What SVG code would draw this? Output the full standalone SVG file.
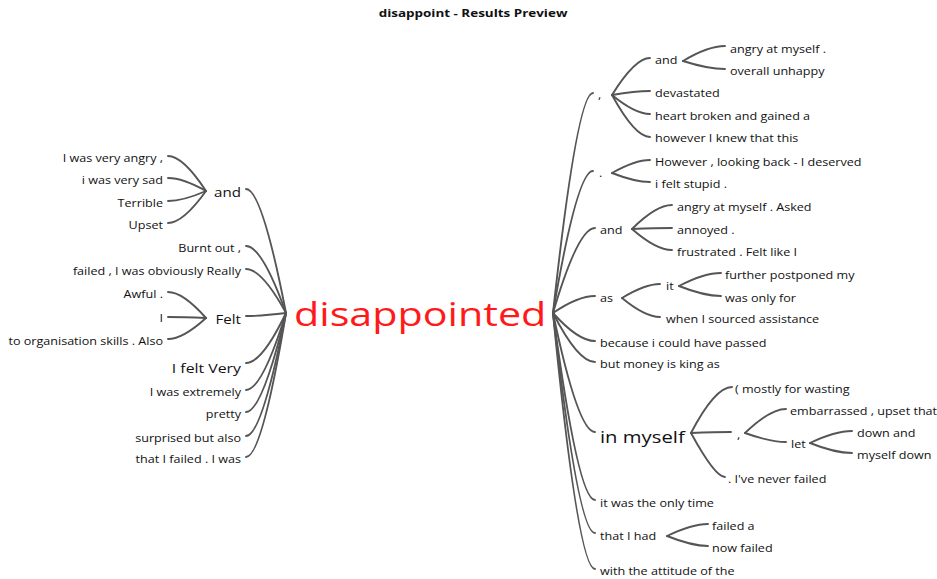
<svg xmlns="http://www.w3.org/2000/svg" width="937" height="579" viewBox="0 0 937 579">
<style>
text{font-family:"Open Sans","Liberation Sans",sans-serif;fill:#111}
.s{font-size:10.5px}
.m{font-size:12.6px}
.l{font-size:13.2px}
.xl{font-size:16.9px}
.e{text-anchor:end}
.title{font-size:11.2px;font-weight:bold;text-anchor:middle;fill:#111}
.center{font-size:33px;fill:#ff1a1a}
#connectors path{fill:none;stroke:#555;stroke-width:1.9;stroke-linecap:round}
</style>
<rect width="937" height="579" fill="#fff"/>
<g id="title" transform="translate(473,17) scale(1.2,1)"><text class="title">disappoint - Results Preview</text></g>
<g id="connectors">
<path d="M286,313 Q262,189 246,189"/>
<path d="M286,313 Q262,246 246,246"/>
<path d="M286,313 Q262,269 246,269"/>
<path d="M286,313 Q262,316 246,316"/>
<path d="M286,313 Q262,363 246,363"/>
<path d="M286,313 Q262,390 246,390"/>
<path d="M286,313 Q262,412 246,412"/>
<path d="M286,313 Q262,436 246,436"/>
<path d="M286,313 Q262,457 246,457"/>
<path d="M206,191 Q183,156 168,156"/>
<path d="M206,191 Q183,178 168,178"/>
<path d="M206,191 Q183,201 168,201"/>
<path d="M206,191 Q183,223 168,223"/>
<path d="M206,318 Q183,292 168,292"/>
<path d="M206,318 Q183,317 168,317"/>
<path d="M206,318 Q183,339 168,339"/>
<path d="M553,313 Q577,93 593,93"/>
<path d="M553,313 Q577,171 593,171"/>
<path d="M553,313 Q578,228 595,228"/>
<path d="M553,313 Q578,296 595,296"/>
<path d="M553,313 Q578,341 595,341"/>
<path d="M553,313 Q578,362 595,362"/>
<path d="M553,313 Q578,432 595,432"/>
<path d="M553,313 Q578,500 595,500"/>
<path d="M553,313 Q578,533 595,533"/>
<path d="M553,313 Q578,569 595,569"/>
<path d="M612,95 Q635,58 650,58"/>
<path d="M612,95 Q635,91 650,91"/>
<path d="M612,95 Q635,114 650,114"/>
<path d="M612,95 Q635,137 650,137"/>
<path d="M683,61 Q708,46 725,46"/>
<path d="M683,61 Q708,69 725,69"/>
<path d="M612,173 Q635,160 650,160"/>
<path d="M612,173 Q635,182 650,182"/>
<path d="M632,229 Q656,205 672,205"/>
<path d="M632,229 Q656,228 672,228"/>
<path d="M632,229 Q656,250 672,250"/>
<path d="M622,298 Q645,284 660,284"/>
<path d="M622,298 Q645,317 660,317"/>
<path d="M679,286 Q704,273 721,273"/>
<path d="M679,286 Q704,296 721,296"/>
<path d="M691,433 Q715,387 732,387"/>
<path d="M691,433 Q715,432 731,432"/>
<path d="M691,433 Q715,477 725,477"/>
<path d="M745,433 Q770,409 786,409"/>
<path d="M745,433 Q770,442 786,442"/>
<path d="M810,443 Q835,431 852,431"/>
<path d="M810,443 Q835,453 852,453"/>
<path d="M667,536 Q692,524 708,524"/>
<path d="M667,536 Q692,546 708,546"/>
</g>
<g id="n-center" transform="translate(294,326) scale(1.25,1)"><text class="center">disappointed</text></g>
<g id="n-l-and" transform="translate(241,197) scale(1.2,1)"><text class="m e">and</text></g>
<g id="n-l-angry" transform="translate(163,162) scale(1.2,1)"><text class="s e">I was very angry ,</text></g>
<g id="n-l-sad" transform="translate(163,184) scale(1.2,1)"><text class="s e">i was very sad</text></g>
<g id="n-l-terrible" transform="translate(163,207) scale(1.2,1)"><text class="s e">Terrible</text></g>
<g id="n-l-upset" transform="translate(163,229) scale(1.2,1)"><text class="s e">Upset</text></g>
<g id="n-l-burnt" transform="translate(241,252) scale(1.2,1)"><text class="s e">Burnt out ,</text></g>
<g id="n-l-failed" transform="translate(241,275) scale(1.2,1)"><text class="s e">failed , I was obviously Really</text></g>
<g id="n-l-felt" transform="translate(241,324) scale(1.2,1)"><text class="m e">Felt</text></g>
<g id="n-l-awful" transform="translate(163,298) scale(1.2,1)"><text class="s e">Awful .</text></g>
<g id="n-l-i" transform="translate(163,322) scale(1.2,1)"><text class="s e">I</text></g>
<g id="n-l-org" transform="translate(163,345) scale(1.2,1)"><text class="s e">to organisation skills . Also</text></g>
<g id="n-l-feltvery" transform="translate(241,373) scale(1.2,1)"><text class="l e">I felt Very</text></g>
<g id="n-l-extremely" transform="translate(241,396) scale(1.2,1)"><text class="s e">I was extremely</text></g>
<g id="n-l-pretty" transform="translate(241,418) scale(1.2,1)"><text class="s e">pretty</text></g>
<g id="n-l-surprised" transform="translate(241,442) scale(1.2,1)"><text class="s e">surprised but also</text></g>
<g id="n-l-thatfailed" transform="translate(241,463) scale(1.2,1)"><text class="s e">that I failed . I was</text></g>
<g id="n-r-comma" transform="translate(598,99) scale(1.2,1)"><text class="s">,</text></g>
<g id="n-r-and1" transform="translate(655,64) scale(1.2,1)"><text class="s">and</text></g>
<g id="n-r-angry1" transform="translate(730,53) scale(1.2,1)"><text class="s">angry at myself .</text></g>
<g id="n-r-overall" transform="translate(730,75) scale(1.2,1)"><text class="s">overall unhappy</text></g>
<g id="n-r-devastated" transform="translate(655,97) scale(1.2,1)"><text class="s">devastated</text></g>
<g id="n-r-heart" transform="translate(655,120) scale(1.2,1)"><text class="s">heart broken and gained a</text></g>
<g id="n-r-however" transform="translate(655,142) scale(1.2,1)"><text class="s">however I knew that this</text></g>
<g id="n-r-period" transform="translate(599,177) scale(1.2,1)"><text class="s">.</text></g>
<g id="n-r-lookingback" transform="translate(655,166) scale(1.2,1)"><text class="s">However , looking back - I deserved</text></g>
<g id="n-r-stupid" transform="translate(655,188) scale(1.2,1)"><text class="s">i felt stupid .</text></g>
<g id="n-r-and2" transform="translate(600,234) scale(1.2,1)"><text class="s">and</text></g>
<g id="n-r-asked" transform="translate(677,211) scale(1.2,1)"><text class="s">angry at myself . Asked</text></g>
<g id="n-r-annoyed" transform="translate(677,234) scale(1.2,1)"><text class="s">annoyed .</text></g>
<g id="n-r-frustrated" transform="translate(677,256) scale(1.2,1)"><text class="s">frustrated . Felt like I</text></g>
<g id="n-r-as" transform="translate(600,302) scale(1.2,1)"><text class="s">as</text></g>
<g id="n-r-it" transform="translate(666,290) scale(1.2,1)"><text class="s">it</text></g>
<g id="n-r-postponed" transform="translate(725,279) scale(1.2,1)"><text class="s">further postponed my</text></g>
<g id="n-r-onlyfor" transform="translate(725,302) scale(1.2,1)"><text class="s">was only for</text></g>
<g id="n-r-sourced" transform="translate(666,323) scale(1.2,1)"><text class="s">when I sourced assistance</text></g>
<g id="n-r-because" transform="translate(600,347) scale(1.2,1)"><text class="s">because i could have passed</text></g>
<g id="n-r-money" transform="translate(600,368) scale(1.2,1)"><text class="s">but money is king as</text></g>
<g id="n-r-inmyself" transform="translate(600,443) scale(1.2,1)"><text class="xl">in myself</text></g>
<g id="n-r-wasting" transform="translate(735,393) scale(1.2,1)"><text class="s">( mostly for wasting</text></g>
<g id="n-r-comma2" transform="translate(737,439) scale(1.2,1)"><text class="s">,</text></g>
<g id="n-r-embarrassed" transform="translate(790,415) scale(1.2,1)"><text class="s">embarrassed , upset that</text></g>
<g id="n-r-let" transform="translate(791,448) scale(1.2,1)"><text class="s">let</text></g>
<g id="n-r-downand" transform="translate(857,437) scale(1.2,1)"><text class="s">down and</text></g>
<g id="n-r-myselfdown" transform="translate(857,459) scale(1.2,1)"><text class="s">myself down</text></g>
<g id="n-r-neverfailed" transform="translate(728,483) scale(1.2,1)"><text class="s">. I've never failed</text></g>
<g id="n-r-onlytime" transform="translate(600,507) scale(1.2,1)"><text class="s">it was the only time</text></g>
<g id="n-r-thatihad" transform="translate(600,540) scale(1.2,1)"><text class="s">that I had</text></g>
<g id="n-r-faileda" transform="translate(712,530) scale(1.2,1)"><text class="s">failed a</text></g>
<g id="n-r-nowfailed" transform="translate(712,552) scale(1.2,1)"><text class="s">now failed</text></g>
<g id="n-r-attitude" transform="translate(600,575) scale(1.2,1)"><text class="s">with the attitude of the</text></g>
</svg>
